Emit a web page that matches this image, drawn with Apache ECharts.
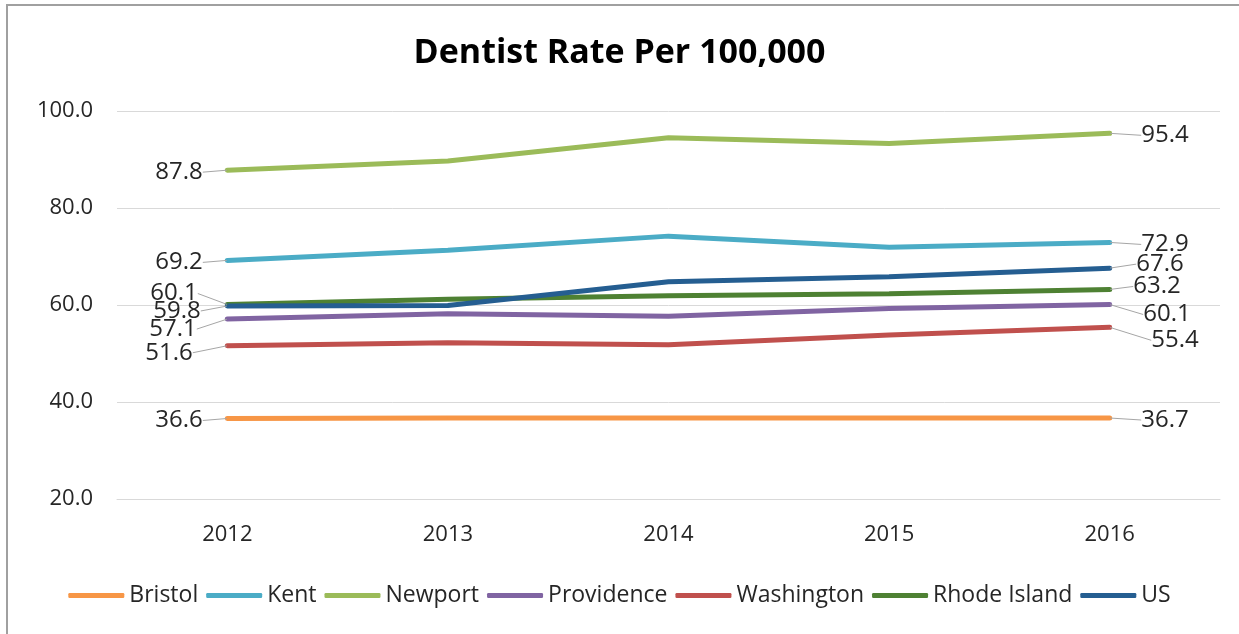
<!DOCTYPE html>
<html>
<head>
<meta charset="utf-8">
<title>Dentist Rate Per 100,000</title>
<script src="https://cdn.jsdelivr.net/npm/echarts@6/dist/echarts.min.js"></script>
<style>
  html, body { margin: 0; padding: 0; background: #ffffff; }
  #chart { width: 1239px; height: 634px; }
</style>
</head>
<body>
<div id="chart"></div>
<script>
// Dentists per 100,000 residents, 2012–2016
const years = ['2012', '2013', '2014', '2015', '2016'];
const seriesNames = ['Bristol', 'Kent', 'Newport', 'Providence', 'Washington', 'Rhode Island', 'US'];

const bristol     = [36.6, 36.7, 36.7, 36.7, 36.7];
const kent        = [69.2, 71.3, 74.2, 71.9, 72.9];
const newport     = [87.8, 89.7, 94.5, 93.3, 95.4];
const providence  = [57.1, 58.2, 57.7, 59.3, 60.1];
const washington  = [51.6, 52.2, 51.8, 53.8, 55.4];
const rhodeIsland = [60.1, 61.2, 61.9, 62.3, 63.2];
const us          = [59.8, 59.9, 64.8, 65.8, 67.6];

const yTicks = { min: 20, max: 100, interval: 20 };

const values = [bristol, kent, newport, providence, washington, rhodeIsland, us];
const colors = ['#F79646', '#4BACC6', '#9BBB59', '#8064A2', '#C0504D', '#4E8133', '#255E91'];

// Nudges (px) that pull the crowded end labels apart: [dx, dy] per series
const startLabelNudge = [[0, 2], [0, 2], [0, 2], [-6, 10], [-10, 7], [-5, -11], [-2, 5]];
const endLabelNudge   = [[0, 2], [0, 2], [0, 2], [2, 10], [10, 13], [-8, -3], [-5, -4]];

const textFont = '"Open Sans", "Noto Sans", sans-serif';

function buildData(vals) {
  const last = vals.length - 1;
  return vals.map(function (v, i) {
    if (i === 0 || i === last) {
      return {
        value: v,
        label: {
          show: true,
          position: i === 0 ? 'left' : 'right',
          distance: i === 0 ? 24 : 31
        }
      };
    }
    return v;
  });
}

const series = seriesNames.map(function (name, k) {
  return {
    name: name,
    type: 'line',
    data: buildData(values[k]),
    color: colors[k],
    symbol: 'circle',
    symbolSize: 1,
    showSymbol: true,
    lineStyle: { width: 5, color: colors[k], cap: 'round' },
    itemStyle: { color: colors[k] },
    label: {
      show: false,
      color: '#262626',
      fontFamily: textFont,
      fontSize: 24,
      formatter: function (p) { return p.value.toFixed(1); }
    },
    labelLine: {
      show: true,
      smooth: false,
      lineStyle: { color: '#a6a6a6', width: 1 }
    },
    labelLayout: function (params) {
      const nudge = params.dataIndex === 0 ? startLabelNudge[k] : endLabelNudge[k];
      return { dx: nudge[0], dy: nudge[1] };
    },
    emphasis: { disabled: true },
    animation: false
  };
});

const chart = echarts.init(document.getElementById('chart'), null, { renderer: 'canvas' });

chart.setOption({
  backgroundColor: '#ffffff',
  animation: false,
  title: {
    text: 'Dentist Rate Per 100,000',
    left: 'center',
    top: 31,
    textStyle: {
      fontFamily: textFont,
      fontWeight: 'bold',
      fontSize: 34,
      color: '#000000'
    }
  },
  graphic: [{
    type: 'rect',
    shape: { x: 7, y: 5, width: 1300, height: 700 },
    style: { fill: 'none', stroke: '#a0a0a0', lineWidth: 2 },
    silent: true,
    z: 100
  }],
  legend: {
    data: seriesNames,
    bottom: 22,
    left: 'center',
    itemWidth: 56,
    itemHeight: 5,
    itemGap: 8,
    icon: 'roundRect',
    textStyle: {
      fontFamily: textFont,
      fontSize: 23,
      color: '#262626',
      padding: [0, 0, 0, 0]
    }
  },
  grid: {
    left: 117,
    right: 19,
    top: 111,
    bottom: 135,
    containLabel: false
  },
  xAxis: {
    type: 'category',
    data: years,
    boundaryGap: true,
    axisLine: { lineStyle: { color: '#d9d9d9', width: 1 } },
    axisTick: { show: false },
    axisLabel: {
      margin: 25,
      fontFamily: textFont,
      fontSize: 22,
      color: '#262626'
    }
  },
  yAxis: {
    type: 'value',
    min: yTicks.min,
    max: yTicks.max,
    interval: yTicks.interval,
    axisLine: { show: false },
    axisTick: { show: false },
    splitLine: { lineStyle: { color: '#d9d9d9', width: 1 } },
    axisLabel: {
      margin: 24,
      fontFamily: textFont,
      fontSize: 22,
      color: '#262626',
      formatter: function (v) { return v.toFixed(1); }
    }
  },
  series: series
});
</script>
</body>
</html>
